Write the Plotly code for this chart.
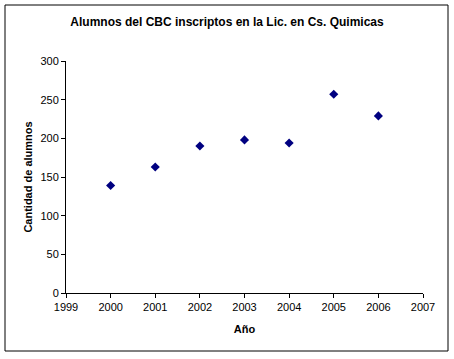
import plotly.graph_objects as go

years = [2000, 2001, 2002, 2003, 2004, 2005, 2006]
alumnos = [139, 163, 190, 198, 194, 257, 229]

FONT = "Liberation Sans, Arial, sans-serif"

fig = go.Figure()
fig.add_trace(go.Scatter(
    x=years, y=alumnos, mode="markers",
    marker=dict(symbol="diamond", size=7, color="#000080",
                line=dict(width=0)),
    showlegend=False,
))

fig.update_layout(
    width=454, height=359,
    margin=dict(l=66, r=31, t=61, b=66),
    paper_bgcolor="white", plot_bgcolor="white",
    font=dict(family=FONT, size=11, color="black"),
    title=dict(text="<b>Alumnos del CBC inscriptos en la Lic. en Cs. Quimicas</b>",
               x=0.5, xanchor="center", y=1 - 22 / 359, yanchor="middle",
               font=dict(family=FONT, size=12, color="black")),
    xaxis=dict(range=[1999, 2007], dtick=1, tick0=1999, showgrid=False,
               zeroline=False, showline=True, linecolor="black", linewidth=1,
               ticks="outside", ticklen=4, tickcolor="black",
               tickfont=dict(size=11),
               title=dict(text="<b>Año</b>", font=dict(size=11), standoff=13)),
    yaxis=dict(range=[0, 300], dtick=50, showgrid=False, zeroline=False,
               showline=True, linecolor="black", linewidth=1,
               ticks="outside", ticklen=4, tickcolor="black",
               tickfont=dict(size=11),
               title=dict(text="<b>Cantidad de alumnos</b>", font=dict(size=11), standoff=5)),
    shapes=[dict(type="rect", xref="paper", yref="paper",
                 x0=(5 - 66) / 357, x1=(448 - 66) / 357,
                 y0=(293 - 351) / 232, y1=(293 - 5) / 232,
                 line=dict(color="black", width=1), fillcolor="rgba(0,0,0,0)",
                 layer="below")],
)

fig.write_html("out.html", config={"displayModeBar": False},
               post_script="document.body.style.margin='0';document.body.style.overflow='hidden';")
